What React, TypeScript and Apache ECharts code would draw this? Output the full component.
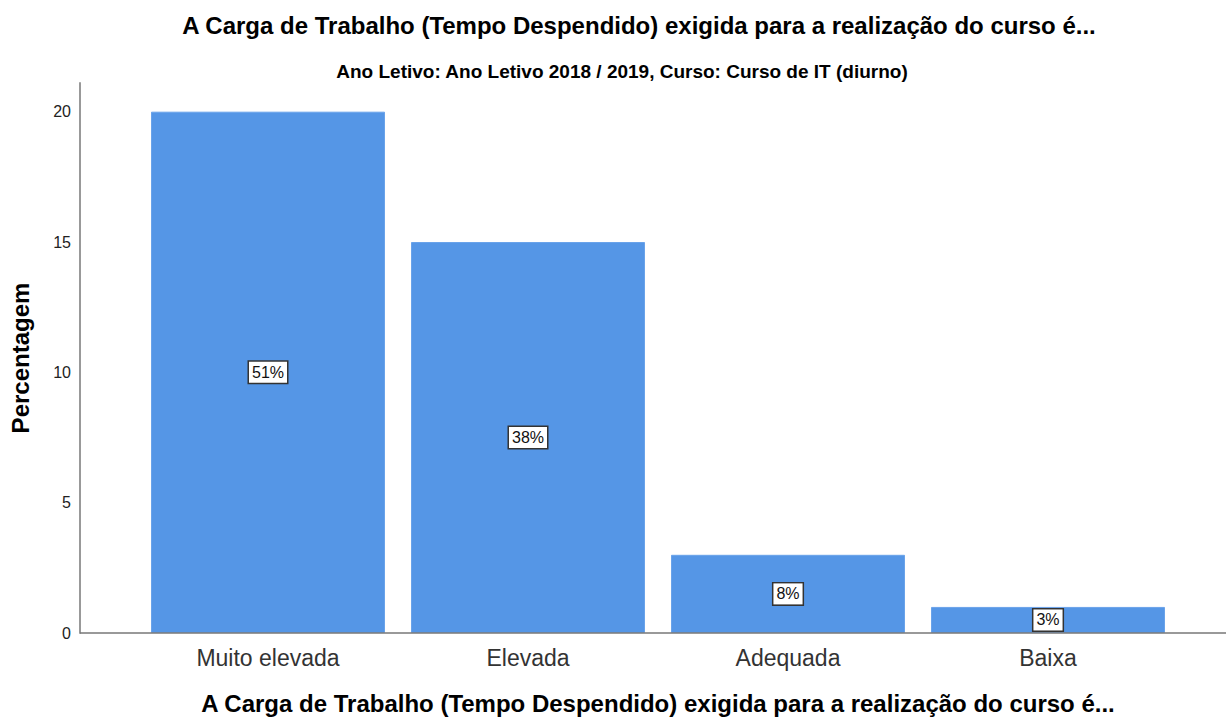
import React, { useEffect, useRef } from "react";
import * as echarts from "echarts";

const titleText = "A Carga de Trabalho (Tempo Despendido) exigida para a realização do curso é...";
const subtitleText = "Ano Letivo: Ano Letivo 2018 / 2019, Curso: Curso de IT (diurno)";
const categories = ["Muito elevada", "Elevada", "Adequada", "Baixa"];
const values = [20, 15, 3, 1];
const percentLabels = ["51%", "38%", "8%", "3%"];
const yAxisName = "Percentagem";
const xAxisName = "A Carga de Trabalho (Tempo Despendido) exigida para a realização do curso é...";

export default function App() {
  const ref = useRef<HTMLDivElement>(null);
  useEffect(() => {
    if (!ref.current) return;
    const chart = echarts.init(ref.current, undefined, { renderer: "svg" });
    const font = "'Liberation Sans', Arial, sans-serif";
    chart.setOption({
      animation: false,
      backgroundColor: "#ffffff",
      title: [
        {
          text: titleText,
          left: 634,
          top: 8,
          textAlign: "center",
          textStyle: { fontFamily: font, fontSize: 24, fontWeight: "bold", color: "#000" },
        },
        {
          text: subtitleText,
          left: 617,
          top: 57,
          textAlign: "center",
          textStyle: { fontFamily: font, fontSize: 19, fontWeight: "bold", color: "#000" },
        },
      ],
      grid: {
        left: 138,
        width: 1040,
        top: 83,
        height: 550,
        containLabel: false,
        outerBoundsMode: "none",
      },
      xAxis: {
        type: "category",
        data: categories,
        axisLine: { show: false },
        axisTick: { show: false },
        axisLabel: { fontFamily: font, fontSize: 23, color: "#333", margin: 13 },
        name: xAxisName,
        nameLocation: "middle",
        nameGap: 58,
        nameTextStyle: { fontFamily: font, fontSize: 24, fontWeight: "bold", color: "#000" },
      },
      yAxis: {
        type: "value",
        min: 0,
        max: 21.1,
        interval: 5,
        offset: 58,
        splitLine: { show: false },
        axisTick: { show: false },
        axisLine: { show: true, lineStyle: { color: "#999", width: 2 } },
        axisLabel: { fontFamily: font, fontSize: 16, color: "#222", margin: 9, showMaxLabel: false },
        name: yAxisName,
        nameLocation: "middle",
        nameRotate: 90,
        nameGap: 48,
        nameTextStyle: { fontFamily: font, fontSize: 24, fontWeight: "bold", color: "#000" },
      },
      series: [
        {
          type: "bar",
          data: values,
          barCategoryGap: "10%",
          itemStyle: { color: "#5596E6", borderColor: "#6AA3EA", borderWidth: 1 },
          label: {
            show: true,
            position: "inside",
            formatter: (p: any) => percentLabels[p.dataIndex],
            fontFamily: font,
            fontSize: 16,
            color: "#111",
            backgroundColor: "#fff",
            borderColor: "#333",
            borderWidth: 1.5,
            padding: [3, 3, 2, 3],
          },
        },
      ],
      graphic: [
        {
          type: "line",
          shape: { x1: 80, y1: 633, x2: 1226, y2: 633 },
          style: { stroke: "#777", lineWidth: 1.5 },
          z: 10,
        },
      ],
    });
    return () => chart.dispose();
  }, []);
  return (
    <div
      ref={ref}
      style={{ position: "fixed", left: 0, top: 0, width: 1226, height: 717 }}
    />
  );
}
